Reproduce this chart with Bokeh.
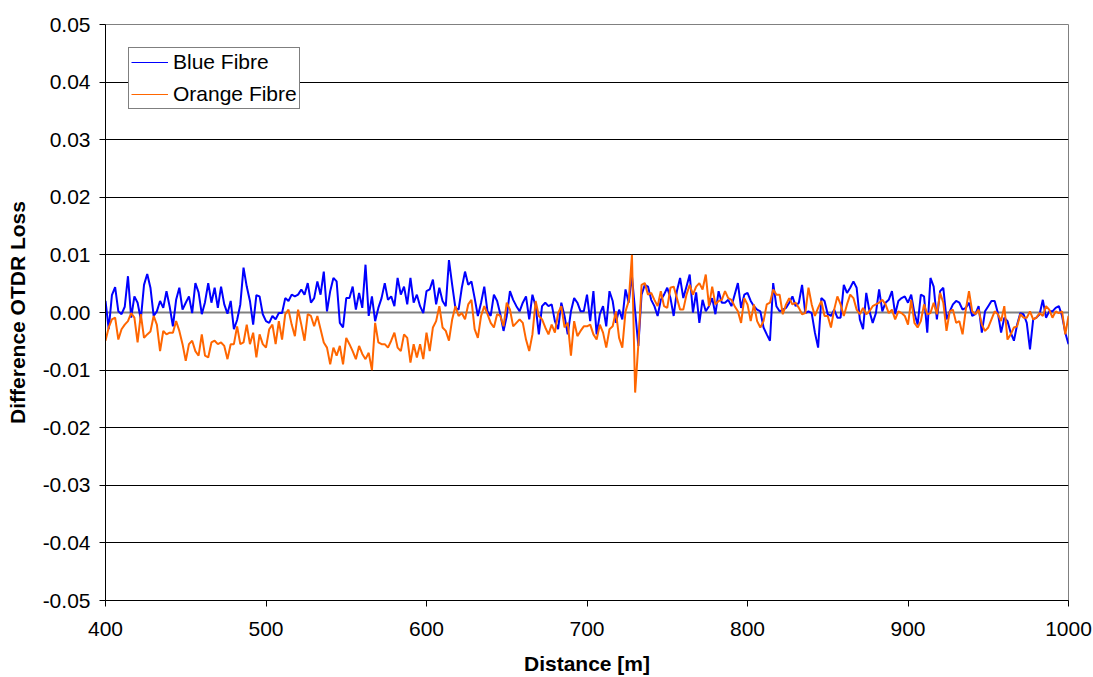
import numpy as np
from bokeh.plotting import figure
from bokeh.models import (FixedTicker, NumeralTickFormatter, Span, Legend,
                          LegendItem, Range1d, ColumnDataSource)
from bokeh.embed import file_html
from bokeh.resources import INLINE

# Distance along the fibre [m], sampled every 2 m
distance = np.arange(400, 1001, 2)

# Difference in OTDR loss, in thousandths
blue_loss_milli = [
    2.0, -2.9, 3.0, 4.4, 0.2, -0.3, 1.0, 6.3, -0.9, 2.8,
    1.7, -1.2, 4.8, 6.7, 4.3, -0.6, 0.2, 2.0, 0.8, 3.7,
    1.0, -2.4, 2.2, 4.3, 0.5, 1.7, 2.8, -0.1, 5.1, 3.5,
    -0.3, 1.8, 5.1, 1.7, 4.3, 0.8, 4.5, 1.4, -0.2, 2.0,
    -2.9, -1.3, 1.4, 7.8, 4.5, 2.0, -2.1, 3.0, 2.8, -0.3,
    -1.5, -1.8, -0.6, -1.2, -0.1, -0.1, 2.5, 2.0, 3.1, 2.8,
    3.1, 4.0, 3.1, 5.1, 1.7, 2.5, 5.4, 3.1, 7.1, 0.2,
    3.7, 6.0, 5.4, -1.8, -2.6, 2.5, 2.5, 4.5, 0.5, 3.4,
    0.8, 8.3, -0.6, 2.8, -1.5, 0.8, 2.5, 5.1, 2.2, 2.8,
    1.1, 6.0, 3.1, 4.5, 1.4, 6.0, 1.7, 3.1, 1.1, -0.1,
    3.7,
    4.0, 5.7, 1.4, 4.3, 2.0, 1.1, 9.1, 4.8, 0.8, 0.5,
    4.3, 7.1, 4.8, 5.4, 2.5, -0.6, 1.7, 4.5, 0.2, -0.6,
    3.1, 2.0, -0.3, -3.2, -0.6, 3.7, 2.2, 1.1, 0.2, 1.7,
    2.8, -1.2, 3.1, 1.1, -3.8, 1.1, 1.7, 1.1, 1.4, -1.5,
    -2.9, 1.7, -0.6, -3.8, 0.2, 2.5, 1.7, 0.2, 0.2, 3.1,
    -1.5, 3.7, -3.8, -0.3, 1.1, -2.4, 3.7, 2.0, -1.8, 0.5,
    -1.2, 4.0, 1.7, 6.3, 0.2, -5.8, 3.1, 4.8, 4.5, 2.2,
    1.1, -0.6, 2.2, 3.1, 4.3, 2.5, -0.6, 3.7, 6.0, 2.5,
    4.5, 6.6, 0.0, 3.5, -1.8, 2.2, 0.2, 1.1, 2.5, -0.3,
    3.7, 1.7, 1.7, 2.2, 1.1, 3.1, 5.1, 0.8, 3.1, 3.4,
    2.0, 1.1, 0.5, 0.2, -2.6, -3.8, -4.9, 5.1, 1.1, 0.2,
    0.5, 0.8, 1.7, 2.8, 1.1, 1.7, 4.8, -0.1, 0.2, -0.1,
    -3.5, -6.1, 2.5, 2.0, -0.3, -0.6, 0.5, -0.9, -0.9, 4.8,
    3.4, 4.3, 5.4, 4.3, -1.2, -2.9, 3.4, 0.2, -1.8, -0.1,
    4.0, 0.2, 1.7, 2.2, 3.7, -0.3, 2.0, 2.5, 2.8, 1.7,
    3.1, -0.1, -2.1, 3.1, 2.8, -3.5, 6.0, 4.5, -1.2, 3.7,
    4.3, -1.2, 0.2, 1.4, 2.0, 1.7, 0.5, 0.8, 1.7, -0.6,
    -0.3, 1.1, -3.5, 0.2, 1.1, 2.0, 2.0, -0.1, -3.5, -0.9,
    -1.5, -3.5, -4.9, -2.1, -0.1, -0.3, -1.8, -6.4, -1.2, -0.9,
    -0.3, 2.2, -0.9, 0.2, 0.2, 0.8, 1.1, -0.6, -3.5, -5.5,
]

orange_loss_milli = [
    -4.9, -2.6, -1.2, -0.9, -4.7, -2.9, -2.1, -1.5, -0.1, -0.9,
    -5.2, -0.3, -4.4, -3.8, -3.3, -0.6, -2.1, -6.7, -3.2, -3.8,
    -3.5, -3.5, -1.5, -3.2, -5.5, -8.4, -5.5, -4.9, -6.7, -7.5,
    -3.8, -7.5, -7.8, -5.2, -4.9, -5.5, -5.2, -5.8, -8.1, -5.5,
    -5.5, -2.4, -5.5, -5.2, -2.1, -5.5, -3.5, -7.8, -3.8, -5.5,
    -6.1, -2.9, -2.1, -5.5, -1.5, -4.7, -0.3, 0.5, -2.1, -4.1,
    0.5, -2.1, -4.9, -0.3, -0.6, -2.4, -0.6, -2.9, -5.2, -6.1,
    -9.0, -6.1, -7.5, -5.8, -9.0, -4.4, -5.5, -6.7, -8.1, -5.8,
    -7.2, -8.1, -7.0, -10.0, -1.8, -5.2, -5.5, -5.5, -6.1, -4.9,
    -3.5, -6.1, -6.7, -3.8, -4.4, -8.7, -5.5, -7.8, -5.5, -8.1,
    -3.5,
    -6.7, -2.6, -1.5, 1.1, -2.6, -3.2, -4.9, -1.2, 1.1, -0.6,
    -0.1, -1.2, 1.4, 2.2, -2.9, -4.4, -0.6, 1.1, -0.3, -1.8,
    -2.6, -0.3, -0.6, -2.4, 1.7, 0.5, -2.4, -1.8, -1.2, -1.8,
    -4.7, -6.7, -3.8, 2.0, -0.6, -1.2, -2.6, -3.8, -2.1, -3.5,
    -0.1, 1.1, -2.6, -1.8, -7.5, -1.5, -4.1, -3.2, -2.4, -2.4,
    -2.1, -3.8, -4.7, -2.1, -3.5, -6.1, -2.9, -2.4, 0.2, -4.4,
    -6.1, 0.2, 2.0, 10.0, -13.9, -5.5, 4.8, 5.1, 3.1, 3.4,
    2.2, 1.1, 3.7, 1.1, 0.8, 4.3, 4.5, 2.5, 0.5, 0.5,
    3.1, 4.8, 3.1, 4.5, 5.1, 4.0, 6.6, 1.1, 4.5, 1.4,
    2.0, 2.2, 3.7, 2.5, 2.2, 1.1, 0.2, -1.8, 2.5, 1.4,
    -1.5, 1.4, -1.5, -2.6, -1.5, 1.4, 1.7, 4.0, 3.1, 3.1,
    -0.3, 1.4, 2.5, 1.4, 1.7, 0.8, -0.3, -0.1, 4.3, 1.4,
    -0.6, 0.8, 2.0, -0.6, -0.6, -2.6, 0.5, 2.8, 1.4, -0.6,
    1.4, 3.1, 2.5, 0.5, -0.3, 0.8, -0.3, 0.2, 1.1, 1.4,
    1.7, 2.2, 1.4, -0.1, 0.5, -1.2, 0.2, -0.1, -0.6, -2.1,
    2.2, -1.8, -2.6, -1.5, 1.4, -0.3, -0.1, 1.7, -0.3, 3.4,
    1.7, -3.2, 0.2, 0.5, -1.8, -1.5, -3.8, 0.5, 3.7, 0.2,
    -0.3, 0.5, -2.1, -3.2, -2.6, -1.2, 0.2, -0.3, -1.5, 1.1,
    -4.7, -3.8, -2.6, -2.4, -0.3, -0.9, -0.9, 0.2, -1.2, -0.9,
    -0.1, -0.6, 1.1, 0.5, -0.9, 0.2, -0.1, 0.2, -3.8, -0.6,
]

series_names = ["Blue Fibre", "Orange Fibre"]
series_colors = ["#0000FF", "#FF6600"]
y_ticks = [-0.05, -0.04, -0.03, -0.02, -0.01, 0.0, 0.01, 0.02, 0.03, 0.04, 0.05]
x_ticks = [400, 500, 600, 700, 800, 900, 1000]

FONT = "Liberation Sans"
FONT_SIZE = "21px"

source = ColumnDataSource(dict(
    distance=distance,
    blue=np.array(blue_loss_milli) / 1000.0,
    orange=np.array(orange_loss_milli) / 1000.0,
))

p = figure(width=1093, height=677,
           x_range=Range1d(400, 1000), y_range=Range1d(-0.05, 0.05),
           output_backend="svg", toolbar_location=None,
           min_border_left=105, min_border_right=25,
           min_border_top=24, min_border_bottom=76)
p.background_fill_color = "white"
p.border_fill_color = "white"
p.outline_line_color = "#808080"
p.outline_line_width = 1

# horizontal grid only
p.xgrid.visible = False
p.ygrid.ticker = FixedTicker(ticks=y_ticks)
p.ygrid.grid_line_color = "black"
p.ygrid.grid_line_width = 1

# zero reference line
p.add_layout(Span(location=0, dimension="width", line_color="#808080",
                  line_width=2, level="underlay"))

# axes
p.yaxis.ticker = FixedTicker(ticks=y_ticks)
p.yaxis.formatter = NumeralTickFormatter(format="0.00")
p.xaxis.ticker = FixedTicker(ticks=x_ticks)
for ax in (p.xaxis, p.yaxis):
    ax.axis_line_color = "black"
    ax.major_tick_line_color = "black"
    ax.major_tick_in = 0
    ax.major_tick_out = 6
    ax.minor_tick_line_color = None
    ax.major_label_text_font = FONT
    ax.major_label_text_font_size = FONT_SIZE
    ax.major_label_text_color = "black"
    ax.axis_label_text_font = FONT
    ax.axis_label_text_font_size = FONT_SIZE
    ax.axis_label_text_font_style = "bold"
    ax.axis_label_text_color = "black"
p.xaxis.axis_label = "Distance [m]"
p.yaxis.axis_label = "Difference OTDR Loss"
p.xaxis.major_label_standoff = 15
p.yaxis.major_label_standoff = 9
p.xaxis.axis_label_standoff = 13
p.yaxis.axis_label_standoff = 11

# data lines
p.line("distance", "blue", source=source, line_color=series_colors[0], line_width=2)
p.line("distance", "orange", source=source, line_color=series_colors[1], line_width=2)

# legend keys drawn with thin lines (their points sit outside the visible range)
key_blue = p.line(x=[300, 310], y=[0, 0], line_color=series_colors[0], line_width=1)
key_orange = p.line(x=[300, 310], y=[0, 0], line_color=series_colors[1], line_width=1)

legend = Legend(
    items=[LegendItem(label=series_names[0], renderers=[key_blue]),
           LegendItem(label=series_names[1], renderers=[key_orange])],
    location="top_left", margin=23, padding=2, spacing=8,
    glyph_width=37, glyph_height=22, label_height=22, label_standoff=5,
    label_text_font=FONT, label_text_font_size=FONT_SIZE,
    label_text_color="black",
    border_line_color="black", border_line_width=1,
    background_fill_color="white", background_fill_alpha=1.0,
)
p.add_layout(legend, "center")

open("out.html", "w").write(file_html(p, INLINE))
